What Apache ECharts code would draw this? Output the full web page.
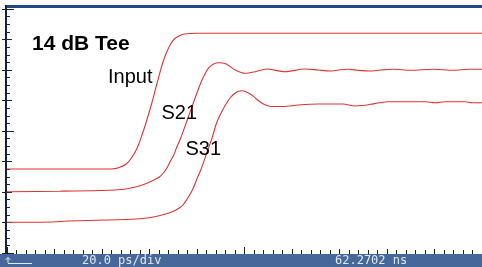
<!DOCTYPE html>
<html>
<head>
<meta charset="utf-8">
<script src="https://cdn.jsdelivr.net/npm/echarts@6/dist/echarts.min.js"></script>
<style>
  html, body { margin: 0; padding: 0; background: #fff; }
  #chart { width: 482px; height: 267px; }
</style>
</head>
<body>
<div id="chart"></div>
<script>
// time in ps (20 ps/div, 10 div), level in vertical divisions (8 div)
var inputT = [0, 43.9, 47.3, 50.2, 52.7, 54.8, 56.7, 58.5, 61.1, 63.2, 65.3, 66.9, 68.9, 70.7, 73.1, 75.7, 79.5, 200];
var inputV = [2.754, 2.754, 2.803, 2.918, 3.148, 3.443, 3.836, 4.262, 4.951, 5.574, 6.164, 6.525, 6.852, 7.033, 7.141, 7.187, 7.203, 7.203];

var s21T = [0, 22.2, 38.9, 49.4, 55.6, 59.8, 62.3, 64.0, 65.7, 67.2, 68.6, 70.3, 71.5, 73.1, 75.9, 79.4, 82.1, 83.7, 84.9, 87.0, 89.1, 91.9, 96.1, 100.3, 104.5, 109.3, 117.0, 125.4, 131.0, 136.0, 139.7, 143.5, 147.7, 152.7, 157.3, 162.8, 169.9, 179.5, 187.9, 194.6, 200];
var s21V = [2.010, 2.026, 2.049, 2.092, 2.197, 2.318, 2.410, 2.482, 2.607, 2.770, 2.984, 3.230, 3.475, 3.761, 4.361, 5.125, 5.672, 5.918, 6.066, 6.197, 6.239, 6.216, 6.000, 5.892, 5.944, 6.033, 5.944, 6.033, 6.000, 5.967, 6.000, 6.023, 5.990, 5.967, 6.000, 6.023, 5.990, 6.023, 5.990, 6.023, 6.023];

var s31T = [0, 19.2, 25.5, 52.7, 59.8, 64.0, 68.2, 70.7, 72.4, 74.1, 75.7, 77.4, 78.9, 80.1, 81.7, 84.4, 86.3, 88.4, 90.8, 92.5, 94.1, 95.8, 97.5, 98.9, 100.8, 103.1, 105.0, 107.2, 109.2, 111.4, 116.3, 122.6, 131.0, 141.4, 146.4, 149.8, 153.1, 156.9, 160.3, 176.2, 180.3, 184.5, 192.9, 195.8, 200];
var s31V = [1.007, 1.016, 1.049, 1.105, 1.157, 1.223, 1.311, 1.393, 1.466, 1.574, 1.754, 1.967, 2.213, 2.459, 2.744, 3.344, 3.761, 4.295, 4.689, 4.918, 5.098, 5.230, 5.302, 5.321, 5.279, 5.180, 5.049, 4.918, 4.843, 4.803, 4.803, 4.852, 4.885, 4.885, 4.820, 4.836, 4.875, 4.928, 4.961, 4.961, 4.928, 4.961, 4.961, 4.928, 4.928];

var title = '14 dB Tee';
var traceNames = ['Input', 'S21', 'S31'];
var timebase = '20.0 ps/div';
var position = '62.2702 ns';

function zip(t, v) {
  return t.map(function (x, i) { return [x, v[i]]; });
}

var red = '#e23232';
var tickColor = '#222';

function xAx(pos, interval, len, minorLen) {
  return {
    type: 'value', position: pos, min: 0, max: 200, interval: interval,
    axisLine: { show: false },
    axisLabel: { show: false },
    splitLine: { show: false },
    axisTick: { show: true, inside: true, length: len, lineStyle: { color: tickColor } },
    minorTick: { show: minorLen > 0, splitNumber: 5, length: minorLen, lineStyle: { color: tickColor } }
  };
}

function yAx(pos, interval, len, minorLen) {
  return {
    type: 'value', position: pos, min: 0, max: 8, interval: interval,
    axisLine: { show: false },
    axisLabel: { show: false },
    splitLine: { show: false },
    axisTick: { show: true, inside: true, length: len, lineStyle: { color: tickColor } },
    minorTick: { show: minorLen > 0, splitNumber: 4, length: minorLen, lineStyle: { color: tickColor } }
  };
}

function trace(name, t, v) {
  return {
    name: name, type: 'line', xAxisIndex: 0, yAxisIndex: 0,
    data: zip(t, v), showSymbol: false, smooth: 0.3,
    lineStyle: { color: red, width: 1.1 }, silent: true, animation: false
  };
}

var txtFont = '20px "Liberation Sans", Arial, sans-serif';
var monoFont = '12px "DejaVu Sans Mono", monospace';
var barText = '#e2e9f3';

var chart = echarts.init(document.getElementById('chart'), null, { renderer: 'canvas' });
chart.setOption({
  animation: false,
  backgroundColor: '#fff',
  grid: { left: 7, right: -3, top: 9, bottom: 14 },
  xAxis: [
    xAx('bottom', 20, 4, 3),
    xAx('top', 20, 5, 3),
    xAx('bottom', 100, 6, 0)
  ],
  yAxis: [
    yAx('left', 1, 5, 3),
    yAx('right', 1, 5, 0),
    yAx('left', 4, 7, 0)
  ],
  series: [
    trace(traceNames[0], inputT, inputV),
    trace(traceNames[1], s21T, s21V),
    trace(traceNames[2], s31T, s31V)
  ],
  graphic: [
    // frame and status bar
    { type: 'rect', shape: { x: 5, y: 5, width: 477, height: 3 }, style: { fill: '#24498a' }, z: 10 },
    { type: 'rect', shape: { x: 5, y: 5, width: 2, height: 249 }, style: { fill: '#10233f' }, z: 10 },
    { type: 'rect', shape: { x: 0, y: 254, width: 482, height: 13 }, style: { fill: '#46679a' }, z: 10 },
    { type: 'polyline', shape: { points: [[8, 263], [8, 257.5]] }, style: { stroke: barText, lineWidth: 1 }, z: 11 },
    { type: 'polyline', shape: { points: [[5.5, 260], [8, 257.5], [10.5, 260]] }, style: { stroke: barText, fill: null, lineWidth: 1 }, z: 11 },
    { type: 'polyline', shape: { points: [[8, 263.5], [32, 263.5]] }, style: { stroke: barText, lineWidth: 1 }, z: 11 },
    { type: 'text', x: 82, y: 261, style: { text: timebase, font: monoFont, fill: barText, verticalAlign: 'middle' }, z: 11 },
    { type: 'text', x: 335, y: 261, style: { text: position, font: monoFont, fill: barText, verticalAlign: 'middle' }, z: 11 },
    // annotations
    { type: 'text', x: 32, y: 44, style: { text: title, font: 'bold 21px "Liberation Sans", Arial, sans-serif', fill: '#000', verticalAlign: 'middle' }, z: 11 },
    { type: 'text', x: 108, y: 77, style: { text: traceNames[0], font: txtFont, fill: '#000', verticalAlign: 'middle' }, z: 11 },
    { type: 'text', x: 161.5, y: 113, style: { text: traceNames[1], font: txtFont, fill: '#000', verticalAlign: 'middle' }, z: 11 },
    { type: 'text', x: 185.5, y: 149, style: { text: traceNames[2], font: txtFont, fill: '#000', verticalAlign: 'middle' }, z: 11 }
  ]
});
</script>
</body>
</html>
